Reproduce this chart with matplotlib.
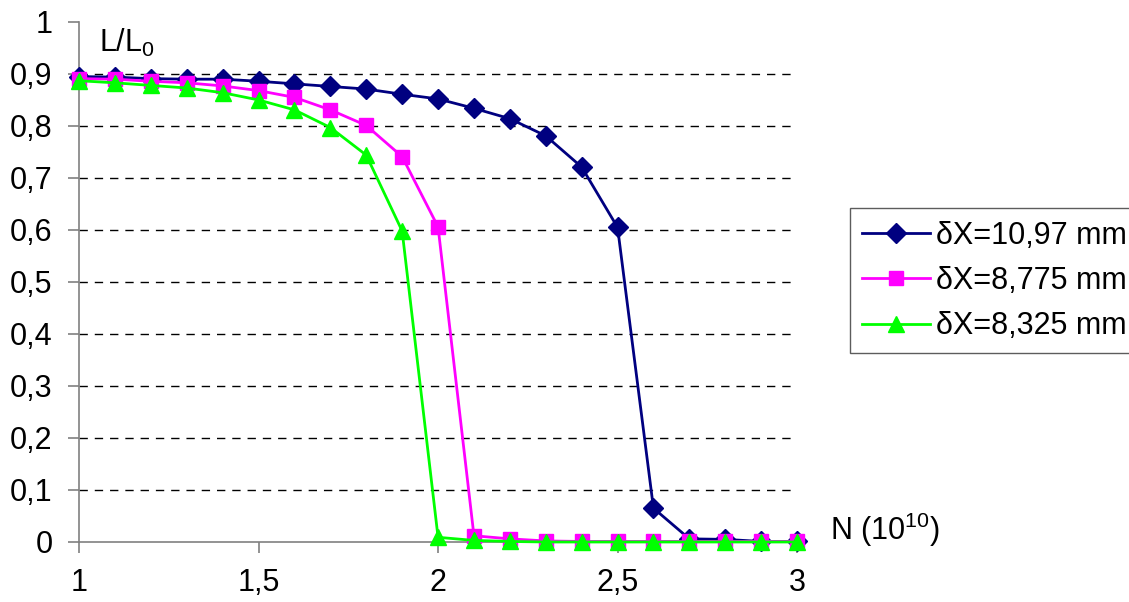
import numpy as np
import matplotlib
matplotlib.use("Agg")
import matplotlib.pyplot as plt

plt.rcParams["font.family"] = ["Liberation Sans", "DejaVu Sans"]
plt.rcParams["mathtext.default"] = "regular"

# ---- data ----
n = [1.0, 1.1, 1.2, 1.3, 1.4, 1.5, 1.6, 1.7, 1.8, 1.9, 2.0,
     2.1, 2.2, 2.3, 2.4, 2.5, 2.6, 2.7, 2.8, 2.9, 3.0]
dx_1097 = [0.895, 0.894, 0.891, 0.890, 0.890, 0.886, 0.881, 0.876, 0.871, 0.861, 0.852,
           0.834, 0.814, 0.781, 0.721, 0.605, 0.065, 0.006, 0.005, 0.001, 0.001]
dx_8775 = [0.891, 0.890, 0.886, 0.883, 0.877, 0.868, 0.855, 0.831, 0.801, 0.741, 0.606,
           0.012, 0.006, 0.002, 0.001, 0.001, 0.001, 0.001, 0.001, 0.001, 0.001]
dx_8325 = [0.887, 0.883, 0.878, 0.873, 0.864, 0.850, 0.831, 0.797, 0.744, 0.598, 0.009,
           0.003, 0.001, 0.000, 0.000, 0.000, 0.000, 0.000, 0.000, 0.000, 0.000]
labels = ["δX=10,97 mm", "δX=8,775 mm", "δX=8,325 mm"]
x_ticks = [1, 1.5, 2, 2.5, 3]
x_ticklabels = ["1", "1,5", "2", "2,5", "3"]
y_ticks = [0, 0.1, 0.2, 0.3, 0.4, 0.5, 0.6, 0.7, 0.8, 0.9, 1]
y_ticklabels = ["0", "0,1", "0,2", "0,3", "0,4", "0,5", "0,6", "0,7", "0,8", "0,9", "1"]

FS = 22

fig = plt.figure(figsize=(11.29, 6.02), dpi=100)
ax = fig.add_axes([0.070, 0.0997, 0.636, 0.8638])

# dashed grid lines (no line at 0 and 1)
for yv in y_ticks[1:-1]:
    ax.axhline(yv, color="black", lw=1, ls=(0, (6, 5)), zorder=1)

ax.plot(n, dx_1097, color="#000080", lw=2, marker="D", ms=10, label=labels[0],
        zorder=3, clip_on=False)
ax.plot(n, dx_8775, color="#FF00FF", lw=2, marker="s", ms=10, label=labels[1],
        zorder=4, clip_on=False)
ax.plot(n, dx_8325, color="#00FF00", lw=2, marker="^", ms=11.5, label=labels[2],
        zorder=5, clip_on=False)

ax.set_xlim(1, 3)
ax.set_ylim(0, 1)
for s in ("top", "right"):
    ax.spines[s].set_visible(False)
for s in ("left", "bottom"):
    ax.spines[s].set_color("#808080")
    ax.spines[s].set_linewidth(1.2)
ax.spines["bottom"].set_zorder(2)

ax.set_xticks(x_ticks)
ax.set_xticklabels(x_ticklabels)
ax.set_yticks(y_ticks)
ax.set_yticklabels(y_ticklabels)
ax.tick_params(axis="both", labelsize=FS, colors="#808080", labelcolor="black",
               length=8, width=1.2, direction="out")
ax.tick_params(axis="x", pad=11)
ax.tick_params(axis="y", pad=11)

ax.text(0.028, 0.99, "L/L$_0$", transform=ax.transAxes, fontsize=FS,
        ha="left", va="top")
ax.text(1.046, 0.004, "N (10$^{10}$)", transform=ax.transAxes, fontsize=FS,
        ha="left", va="baseline", clip_on=False)

leg = ax.legend(loc="center left", bbox_to_anchor=(1.074, 0.502), fontsize=FS,
                frameon=True, fancybox=False, edgecolor="#333333", borderpad=0.4,
                handlelength=2.2, handletextpad=0.2, labelspacing=0.5,
                borderaxespad=0)
leg.get_frame().set_linewidth(1.0)

fig.savefig("out.png", dpi=100)
